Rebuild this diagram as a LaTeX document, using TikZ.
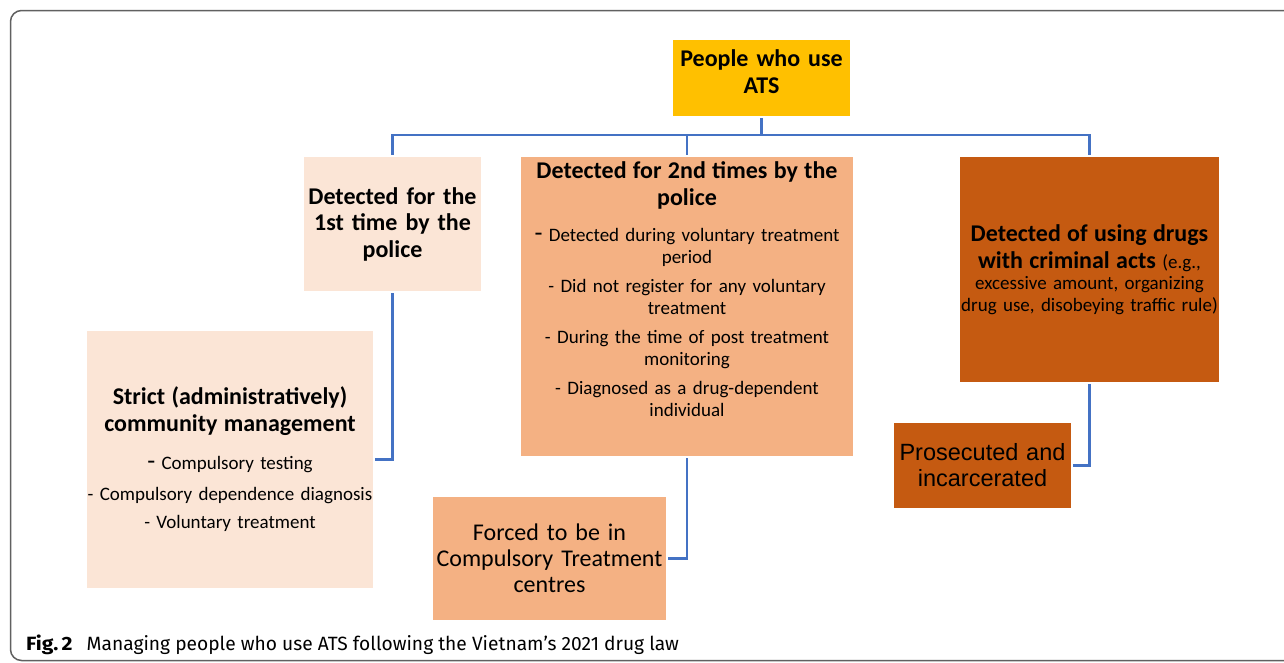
\documentclass[tikz,border=0pt]{standalone}
\usepackage{fontspec}
\setmainfont{Carlito}
\newfontfamily\arialfont{Liberation Sans}
\newfontfamily\capfont{Fira Sans}
\usetikzlibrary{positioning}

\definecolor{atsgold}{HTML}{FFC000}
\definecolor{atspale}{HTML}{FBE5D6}
\definecolor{atspeach}{HTML}{F4B183}
\definecolor{atsrust}{HTML}{C55A11}
\definecolor{atsblue}{HTML}{4472C4}
\definecolor{framegray}{HTML}{606060}

\newcommand{\headfont}{\fontsize{24}{26.5}\selectfont\bfseries}
\newcommand{\itemfont}{\fontsize{19}{21.5}\selectfont\mdseries}
\newcommand{\leaddash}{{\fontsize{26}{20}\selectfont -}}
\hyphenpenalty=10000

\begin{document}
\begin{tikzpicture}[x=1pt, y=-1pt,
    box/.style={inner sep=0pt, align=center},
    link/.style={draw=atsblue, line width=2.4pt, shorten <=2pt, shorten >=2pt}]
  \useasboundingbox (0,0) rectangle (1284,662);
  % outer frame, open to the right
  \draw[framegray, line width=1.5pt, rounded corners=11pt] (10.5,10.5) rectangle (1330,660.5);

  % top level
  \node[box, fill=atsgold, minimum width=177pt, minimum height=76pt,
        text width=177pt, text depth=39.5pt, font=\headfont] (ats) at (761.5,78)
       {People who use\\ATS};

  % second level
  \node[box, fill=atspale, minimum width=177pt, minimum height=134pt,
        text width=177pt, font=\headfont] (first) at (392.5,224)
       {Detected for the\\1st time by the\\police};
  \node[box, fill=atspeach, minimum width=332pt, minimum height=299pt] (second) at (687,306.5) {};
  \node[box, anchor=north, text width=330pt, font=\itemfont] (secondtext)
       at ([yshift=-5pt]second.north)
       {{\headfont Detected for 2nd times by the\\police\par}\vspace{15pt}
        \leaddash\ Detected during voluntary treatment\\period\\[8pt]
        - Did not register for any voluntary\\treatment\\[8pt]
        - During the time of post treatment\\monitoring\\[8pt]
        - Diagnosed as a drug-dependent\\individual};
  \node[box, fill=atsrust, minimum width=259pt, minimum height=225pt,
        text width=259pt, font=\itemfont] (third) at (1089.5,269.5)
       {{\headfont Detected of using drugs\\with criminal acts {\itemfont (e.g.,}\par}\vspace{0pt}
        excessive amount, organizing\\drug use, disobeying traffic rule)};

  % third level
  \node[box, fill=atspale, minimum width=286pt, minimum height=257pt,
        text width=286pt, font=\itemfont] (strict) at (230,459.5)
       {{\headfont Strict (administratively)\\community management\par}\vspace{17pt}
        \leaddash\ Compulsory testing\\[9pt]
        - Compulsory dependence diagnosis\\[7pt]
        - Voluntary treatment};
  \node[box, fill=atspeach, minimum width=233pt, minimum height=123pt,
        text width=233pt, font=\fontsize{24}{26}\selectfont] (forced) at (549.5,558.5)
       {Forced to be in\\Compulsory Treatment\\centres};
  \node[box, fill=atsrust, minimum width=177pt, minimum height=85pt,
        text width=177pt, font=\arialfont\fontsize{23.5}{26}\selectfont] (jail) at (982.5,465.5)
       {Prosecuted and\\incarcerated};

  % connectors
  \coordinate (bus) at (761.5,135);
  \draw[link, shorten >=0pt] (ats.south) -- (bus);
  \draw[link] (first.north) |- (bus) -| (third.north);
  \draw[link, shorten <=0pt] (bus -| second.north) -- (second.north);
  \draw[link] (first.south) |- (strict.east);
  \draw[link] (second.south) |- (forced.east);
  \draw[link] (third.south) |- (jail.east);

  % caption
  \node[anchor=base west, inner sep=0pt, font=\capfont\fontsize{19.2}{20}\selectfont] (caption)
       at (26,650.5) {\textbf{\addfontfeature{FakeStretch=1.1}Fig.\,2}\hspace{14pt}Managing people who use ATS following the Vietnam’s 2021 drug law};
\end{tikzpicture}
\end{document}
